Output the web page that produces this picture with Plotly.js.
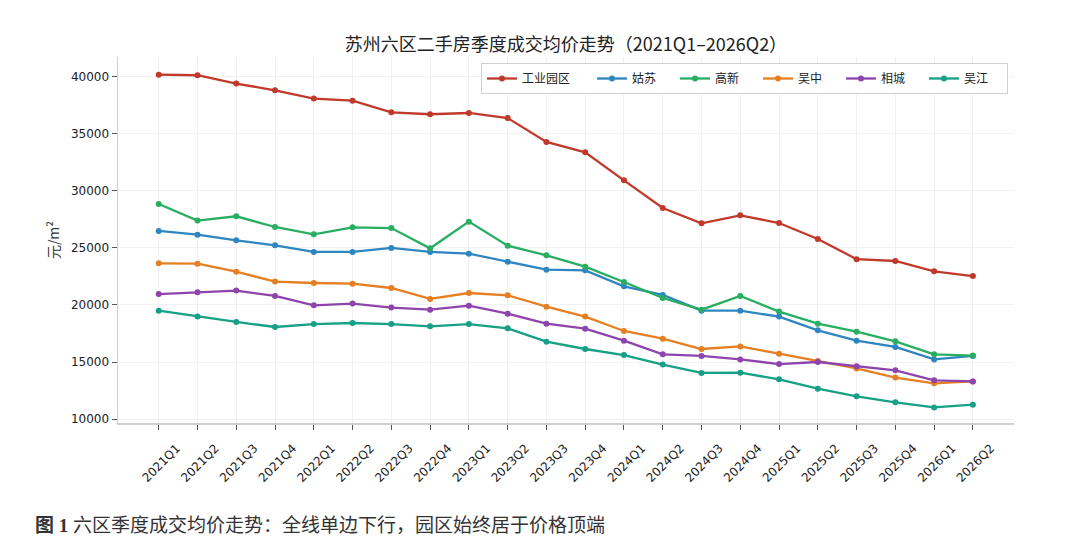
<!DOCTYPE html>
<html>
<head>
<meta charset="utf-8">
<script src="https://cdn.plot.ly/plotly-3.0.1.min.js"></script>
<style>
  html, body { margin: 0; padding: 0; background: #fff; }
  #chart { width: 1080px; height: 558px; }
</style>
</head>
<body>
<div id="chart"></div>
<script>
// quarters on the x axis
var quarters = ['2021Q1','2021Q2','2021Q3','2021Q4','2022Q1','2022Q2','2022Q3','2022Q4',
                '2023Q1','2023Q2','2023Q3','2023Q4','2024Q1','2024Q2','2024Q3','2024Q4',
                '2025Q1','2025Q2','2025Q3','2025Q4','2026Q1','2026Q2'];

// average price, yuan per m2
var sip        = [40200, 40150, 39420, 38830, 38100, 37920, 36900, 36730, 36840, 36400, 34300,
                  33390, 30930, 28510, 27160, 27860, 27190, 25790, 24020, 23860, 22950, 22540];
var gusu       = [26500, 26170, 25670, 25230, 24650, 24650, 25000, 24650, 24500, 23800, 23100,
                  23040, 21640, 20880, 19500, 19500, 18980, 17780, 16870, 16320, 15230, 15530];
var gaoxin     = [28860, 27400, 27780, 26840, 26200, 26810, 26750, 24970, 27310, 25200, 24360,
                  23360, 22020, 20610, 19590, 20790, 19420, 18360, 17660, 16810, 15670, 15560];
var wuzhong    = [23650, 23620, 22920, 22050, 21930, 21870, 21490, 20530, 21050, 20850, 19850,
                  18980, 17720, 17050, 16140, 16370, 15730, 15090, 14440, 13630, 13130, 13300];
var xiangcheng = [20960, 21110, 21260, 20790, 19970, 20120, 19770, 19590, 19940, 19240, 18360,
                  17920, 16870, 15670, 15530, 15230, 14820, 15000, 14620, 14270, 13390, 13300];
var wujiang    = [19500, 18980, 18510, 18070, 18330, 18420, 18330, 18130, 18330, 17950, 16780,
                  16140, 15610, 14770, 14040, 14060, 13480, 12660, 11990, 11460, 11020, 11260];

var names  = ['工业园区', '姑苏', '高新', '吴中', '相城', '吴江'];
var series = [sip, gusu, gaoxin, wuzhong, xiangcheng, wujiang];
var colors = ['#c0392b', '#2e86c1', '#27ae60', '#e67e22', '#8e44ad', '#16a085'];
var yTicks = [10000, 15000, 20000, 25000, 30000, 35000, 40000];

var traces = series.map(function (vals, i) {
    return {
        x: quarters,
        y: vals,
        name: names[i],
        type: 'scatter',
        mode: 'lines+markers',
        line: { color: colors[i], width: 2.3 },
        marker: { color: colors[i], size: 6 },
        legendwidth: names[i].length > 2 ? 65 : 38
    };
});

var tickFont = { family: 'DejaVu Sans, Noto Sans CJK SC, sans-serif', size: 12, color: '#222' };

var layout = {
    width: 1080,
    height: 558,
    paper_bgcolor: '#fff',
    plot_bgcolor: '#fff',
    margin: { l: 118, r: 66, t: 57, b: 135, pad: 0 },
    showlegend: true,
    title: {
        text: '苏州六区二手房季度成交均价走势（2021Q1–2026Q2）',
        font: { family: 'Noto Sans CJK SC, sans-serif', size: 18, color: '#222' },
        x: 0.5, xref: 'paper', xanchor: 'center',
        y: 1 - 45 / 558, yref: 'container', yanchor: 'middle'
    },
    xaxis: {
        type: 'category',
        range: [-1.05, 22.06],
        tickangle: -45,
        ticklabelshift: 18,
        ticklabelstandoff: 7,
        tickfont: tickFont,
        ticks: 'outside', ticklen: 5, tickwidth: 1, tickcolor: '#555',
        showline: true, linecolor: '#cfcfcf', linewidth: 1.5,
        showgrid: true, gridcolor: '#f1f1f1', gridwidth: 1,
        zeroline: false, automargin: false, fixedrange: true
    },
    yaxis: {
        range: [9650, 41750],
        tickvals: yTicks,
        ticktext: yTicks.map(String),
        tickfont: tickFont,
        ticks: 'outside', ticklen: 5, tickwidth: 1, tickcolor: '#555',
        showline: true, linecolor: '#cfcfcf', linewidth: 1.5,
        showgrid: true, gridcolor: '#f1f1f1', gridwidth: 1,
        zeroline: false, automargin: false, fixedrange: true,
        title: {
            text: '元/m²',
            font: { family: 'Noto Sans CJK SC, sans-serif', size: 14, color: '#333' },
            standoff: 8
        }
    },
    legend: {
        orientation: 'h',
        x: (1008 - 118) / 896, xanchor: 'right',
        y: 1 - (63 - 57) / 366, yanchor: 'top',
        bgcolor: '#fff',
        bordercolor: '#d0d0d0', borderwidth: 1,
        font: { family: 'Noto Sans CJK SC, sans-serif', size: 12, color: '#222' }
    },
    annotations: [{
        text: '<b>图 1</b> 六区季度成交均价走势：全线单边下行，园区始终居于价格顶端',
        xref: 'paper', yref: 'paper',
        x: (33 - 118) / 896, xanchor: 'left',
        y: 1 - (525 - 57) / 366, yanchor: 'middle',
        showarrow: false,
        font: { family: 'Liberation Serif, Noto Sans CJK SC, serif', size: 19, color: '#333' }
    }]
};

Plotly.newPlot('chart', traces, layout, { displayModeBar: false, staticPlot: true });
</script>
</body>
</html>
